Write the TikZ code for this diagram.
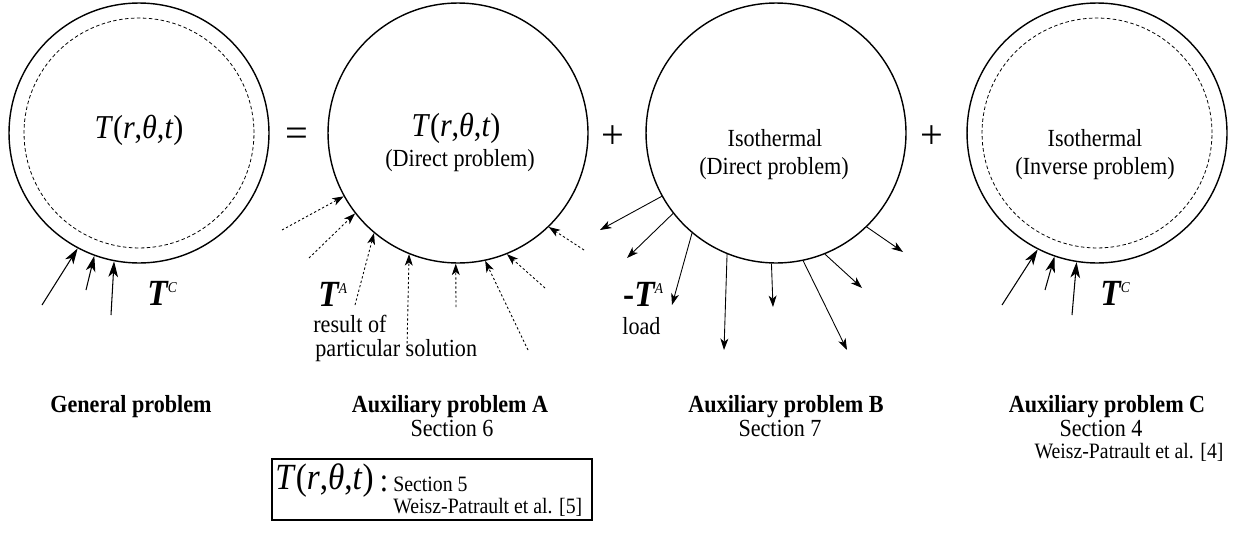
\documentclass[tikz,border=0pt]{standalone}
\usepackage{fontspec}
\setmainfont[FakeStretch=0.9]{Liberation Serif}
\newfontfamily\symfont{Liberation Serif}
\usetikzlibrary{arrows.meta}
\newcommand{\Trt}{\textit{T}(\textit{r},\textit{θ},\textit{t})}
\newcommand{\BoldT}[1]{\textbf{\textit{T}}\kern-0.5pt\raisebox{7.2pt}{\fontsize{8.5}{9}\selectfont\textit{#1}}}
\begin{document}
\begin{tikzpicture}[x=0.02cm,y=-0.02cm,
  ring/.style={circle, draw, line width=0.8pt, inner sep=0pt, minimum size=5.2cm},
  innerring/.style={circle, draw, line width=0.45pt, dash pattern=on 2pt off 1.4pt, inner sep=0pt, minimum size=4.6cm},
  bigarrow/.style={line width=0.6pt, -{Stealth[length=9pt,width=5.5pt,inset=2.5pt]}},
  dotarrow/.style={line width=0.5pt, dash pattern=on 1.3pt off 1.3pt, -{Stealth[length=6.5pt,width=4.5pt,inset=1.8pt]}},
  outarrow/.style={line width=0.5pt, -{Stealth[length=6.5pt,width=4.5pt,inset=1.8pt]}},
  big/.style={inner sep=0pt, font=\fontsize{19}{22}\selectfont},
  bigger/.style={inner sep=0pt, font=\fontsize{21}{24}\selectfont},
  lbl/.style={inner sep=0pt, font=\fontsize{14}{16}\selectfont},
  blbl/.style={inner sep=0pt, font=\fontsize{14}{16}\selectfont\bfseries},
  small/.style={inner sep=0pt, font=\fontsize{12.5}{14}\selectfont},
  vec/.style={inner sep=0pt, font=\fontsize{21}{24}\selectfont},
  op/.style={inner sep=0pt, font=\symfont\fontsize{23}{26}\selectfont}
]
\useasboundingbox (0,0) rectangle (1236,551);

% circles
\node[ring] (c1) at (139,133) {};
\node[innerring] (c1i) at (139,133) {};
\node[ring] (c2) at (458,133) {};
\node[ring] (c3) at (776,133) {};
\node[ring] (c4) at (1097,133) {};
\node[innerring] (c4i) at (1097,133) {};

% texts in circles
\node[big] (t1) at (139,130) {\Trt};
\node[big] (t2) at (456,128) {\Trt};
\node[lbl] (t2b) at (460,161) {(Direct problem)};
\node[lbl] (t3) at (775,138) {Isothermal};
\node[lbl] (t3b) at (774,169) {(Direct problem)};
\node[lbl] (t4) at (1095,138) {Isothermal};
\node[lbl] (t4b) at (1095,169) {(Inverse problem)};

% operators
\node[op] (eq) at (297,137) {=};
\node[op] (p1) at (613,137) {+};
\node[op] (p2) at (932,137) {+};

% general problem arrows
\foreach \n/\ang/\tx/\ty in {1/242/42/305, 2/250.6/86/290, 3/259.9/111/315} {
  \coordinate (g\n) at (\tx,\ty);
  \draw[bigarrow] (g\n) -- (c1.\ang);
}
\node[vec, anchor=west] (tc1) at (147,293) {\BoldT{C}};

% problem C arrows
\foreach \n/\ang/\tx/\ty in {1/243/1002/305, 2/251.5/1045/290, 3/261/1072/315} {
  \coordinate (h\n) at (\tx,\ty);
  \draw[bigarrow] (h\n) -- (c4.\ang);
}
\node[vec, anchor=west] (tc4) at (1100,293) {\BoldT{C}};

% problem A dotted arrows
\foreach \n/\ang/\tx/\ty in {1/209.1/282/230, 2/218.4/309/258, 3/230/355/305, 4/248.9/407/348, 5/269/456/307, 6/282.3/528/350, 7/292.2/545/288, 8/314.4/584/250} {
  \coordinate (a\n) at (\tx,\ty);
  \draw[dotarrow] (a\n) -- (c2.\ang);
}
\node[vec, anchor=west] (ta) at (318,294) {\BoldT{A}};
\node[lbl, anchor=west] (ra) at (313,324) {result of};
\node[lbl, anchor=west] (rb) at (315,351) {particular solution};

% problem B arrows
\foreach \n/\ang/\tx/\ty in {1/209.3/600/230, 2/218.5/627/258, 3/230.5/672/305, 4/248.5/724/350, 5/268.7/773/307, 6/282/847/350, 7/292/862/288, 8/314.4/903/252} {
  \coordinate (b\n) at (\tx,\ty);
  \draw[outarrow] (c3.\ang) -- (b\n);
}
\node[vec, anchor=west] (tb) at (623,294) {\textbf{-}\BoldT{A}};
\node[lbl, anchor=west] (ld) at (622,326) {load};

% bottom labels
\node[blbl] (L1) at (131,407) {General problem};
\node[blbl] (L2) at (450,407) {Auxiliary problem A};
\node[lbl] (L2b) at (452,428) {Section 6};
\node[blbl] (L3) at (786,407) {Auxiliary problem B};
\node[lbl] (L3b) at (780,428) {Section 7};
\node[blbl] (L4) at (1107,407) {Auxiliary problem C};
\node[lbl] (L4b) at (1101,428) {Section 4};
\node[small] (L4c) at (1129,452) {Weisz-Patrault et al. [4]};

% box
\node[draw, line width=0.8pt, minimum width=6.4cm, minimum height=1.22cm, inner sep=0pt] (bx) at (432,489.5) {};
\node[bigger, anchor=west] (bt) at (275,481) {\Trt};
\node[big] (bc) at (384,484) {:};
\node[small, anchor=west] (bs) at (393,484) {Section 5};
\node[small, anchor=west] (bw) at (393,507) {Weisz-Patrault et al. [5]};
\end{tikzpicture}
\end{document}
